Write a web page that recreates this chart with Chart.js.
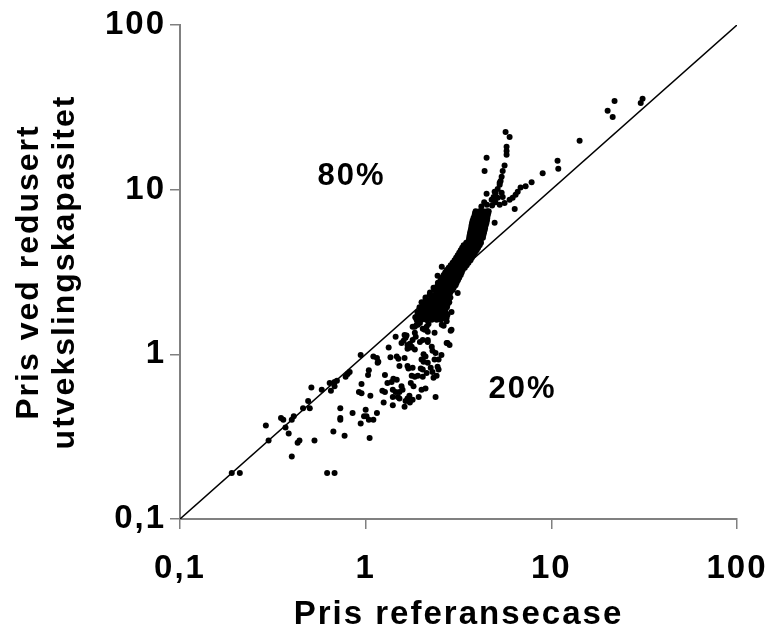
<!DOCTYPE html>
<html>
<head>
<meta charset="utf-8">
<script src="https://cdn.jsdelivr.net/npm/chart.js@4"></script>
<style>
  html, body { margin: 0; padding: 0; background: #fff; }
  #wrap { width: 768px; height: 635px; }
</style>
</head>
<body>
<div id="wrap"><canvas id="priceChart" width="768" height="635"></canvas></div>
<script>
var tickValues = [0.1, 1, 10, 100];
var tickLabels = ["0,1", "1", "10", "100"];
var diagonal = [0.1, 100];

// [pris referansecase, pris ved redusert utvekslingskapasitet]
var lowerPoints = [
  [0.19, 0.19], [0.21, 0.19], [0.29, 0.37], [0.30, 0.30], [0.35, 0.41], [0.36, 0.40],
  [0.37, 0.36], [0.385, 0.33], [0.40, 0.40], [0.41, 0.42], [0.40, 0.24], [0.43, 0.29],
  [0.44, 0.30], [0.46, 0.47], [0.49, 0.52], [0.50, 0.47], [0.51, 0.63], [0.53, 0.30],
  [0.58, 0.61], [0.62, 0.19], [0.68, 0.19], [0.64, 0.67], [0.65, 0.60], [0.67, 0.34],
  [0.68, 0.68], [0.70, 0.69], [0.68, 0.64], [0.73, 0.47], [0.73, 0.41], [0.73, 0.40],
  [0.77, 0.32], [0.78, 0.73], [0.80, 0.76], [0.82, 0.78], [0.85, 0.44], [0.92, 0.59],
  [0.95, 0.58], [0.95, 0.66], [0.94, 0.99], [1.00, 0.46], [0.98, 0.42], [0.94, 0.38],
  [1.04, 0.40], [1.10, 0.40], [1.05, 0.31], [1.06, 0.56], [1.03, 0.75], [1.04, 0.80],
  [1.10, 0.97], [1.15, 0.95], [1.16, 0.89], [1.15, 0.44], [1.01, 0.42], [1.17, 0.90]
];

var midPoints = [
  [1.33, 1.10], [1.36, 0.96], [1.45, 1.28], [1.50, 0.94], [1.47, 0.97], [1.56, 1.17],
  [1.60, 1.21], [1.64, 1.26], [1.66, 1.30], [1.52, 0.85], [1.68, 1.08], [1.62, 0.95],
  [1.75, 1.10], [1.86, 1.28], [1.84, 1.07], [1.70, 0.82], [1.47, 0.70], [1.38, 0.68],
  [1.41, 0.71], [1.27, 0.75], [1.23, 0.60], [1.40, 0.61], [1.45, 0.59], [1.49, 0.55],
  [1.52, 0.54], [1.25, 0.51], [1.40, 0.49], [1.56, 0.64], [1.58, 0.61], [1.68, 0.54],
  [1.72, 0.56], [1.64, 0.52], [1.81, 0.64], [1.75, 0.67], [1.93, 0.55], [1.77, 0.74],
  [1.84, 0.73], [1.91, 0.74], [2.00, 0.61], [2.10, 0.62], [2.38, 0.55], [1.98, 0.82],
  [2.03, 0.81], [1.68, 0.85], [1.79, 0.83], [2.00, 0.93], [2.05, 0.90], [2.16, 0.89],
  [2.24, 0.83], [2.29, 0.78], [2.47, 0.81], [2.32, 0.72], [2.41, 0.74], [2.29, 1.05],
  [2.38, 1.02], [2.05, 1.00], [2.10, 0.97], [1.96, 1.19], [2.03, 1.22], [2.16, 1.19],
  [2.47, 0.93], [2.56, 0.99], [2.73, 1.17], [2.83, 1.14], [2.87, 1.39], [2.73, 1.59],
  [2.56, 1.64], [2.47, 1.71], [1.79, 1.47], [1.88, 1.51], [1.96, 1.55], [1.88, 1.69],
  [1.98, 1.79], [2.08, 1.84], [2.16, 1.92], [2.03, 1.43], [2.13, 1.47], [2.18, 1.53],
  [1.68, 1.14], [1.73, 1.16], [1.79, 1.22], [1.84, 1.35], [1.31, 0.67], [1.27, 0.59],
  [1.52, 0.59], [1.40, 0.55], [1.62, 0.48], [1.73, 0.51], [1.79, 0.53], [2.03, 0.73],
  [2.13, 0.77], [2.35, 0.93], [2.44, 0.84], [1.62, 1.31], [1.84, 1.47], [1.91, 1.51],
  [2.08, 1.41], [2.16, 1.37], [2.16, 1.22], [2.35, 1.35], [2.57, 1.51], [2.41, 1.67],
  [2.73, 1.67], [2.76, 1.74], [2.63, 1.49], [2.90, 1.81], [2.90, 1.41], [2.76, 1.17],
  [1.77, 1.11], [2.27, 1.11], [2.13, 1.62], [2.44, 1.86]
];

// the dense band: one y level, several x values
var bandLevels = [1.62, 1.68, 1.74, 1.8, 1.86, 1.93, 2.0, 2.07, 2.14, 2.21, 2.29, 2.37,
  2.46, 2.54, 2.63, 2.72, 2.82, 2.92, 3.03, 3.14, 3.25, 3.36, 3.48, 3.6, 3.73, 3.86,
  4.0, 4.14, 4.29, 4.44, 4.6, 4.76, 4.93, 5.1, 5.28, 5.47, 5.66, 5.86, 6.07, 6.28,
  6.5, 6.73, 6.97, 7.18, 7.4];
var bandX = [
  [1.88, 2.0, 2.13, 2.27, 2.41, 2.53],
  [1.85, 1.96, 2.09, 2.22, 2.36, 2.5, 2.62],
  [1.93, 2.05, 2.18, 2.32, 2.47, 2.63],
  [1.9, 2.02, 2.15, 2.28, 2.43, 2.58, 2.7],
  [1.98, 2.1, 2.24, 2.38, 2.53, 2.66],
  [1.95, 2.06, 2.19, 2.33, 2.47, 2.62, 2.74],
  [2.03, 2.15, 2.28, 2.42, 2.57, 2.76],
  [2.0, 2.12, 2.25, 2.38, 2.52, 2.68, 2.82],
  [2.1, 2.22, 2.36, 2.5, 2.66, 2.8],
  [2.1, 2.28, 2.43, 2.57, 2.72, 2.86],
  [2.21, 2.35, 2.5, 2.63, 2.78],
  [2.22, 2.41, 2.56, 2.7, 2.86],
  [2.35, 2.48, 2.63, 2.78, 2.94],
  [2.32, 2.52, 2.67, 2.82, 2.98],
  [2.44, 2.58, 2.73, 2.88, 3.05],
  [2.45, 2.62, 2.77, 2.93, 3.09],
  [2.53, 2.68, 2.83, 2.98, 3.14],
  [2.57, 2.72, 2.88, 3.04, 3.19],
  [2.63, 2.78, 2.94, 3.1, 3.25],
  [2.68, 2.83, 2.98, 3.14, 3.29],
  [2.73, 2.88, 3.03, 3.2, 3.33],
  [2.8, 2.95, 3.1, 3.28, 3.42],
  [2.87, 3.03, 3.2, 3.37, 3.5],
  [2.94, 3.1, 3.27, 3.43, 3.58],
  [3.01, 3.17, 3.33, 3.5, 3.67],
  [3.07, 3.23, 3.4, 3.56, 3.73],
  [3.13, 3.29, 3.46, 3.63, 3.8],
  [3.19, 3.35, 3.52, 3.69, 3.88],
  [3.25, 3.41, 3.58, 3.76, 3.96],
  [3.31, 3.48, 3.65, 3.83, 4.03],
  [3.37, 3.54, 3.72, 3.91, 4.11],
  [3.48, 3.65, 3.84, 4.03, 4.18],
  [3.59, 3.77, 3.96, 4.16],
  [3.61, 3.79, 3.98, 4.18, 4.28],
  [3.63, 3.81, 4.0, 4.2, 4.3],
  [3.65, 3.83, 4.02, 4.22, 4.34],
  [3.68, 3.86, 4.05, 4.25, 4.37],
  [3.7, 3.88, 4.07, 4.27, 4.4],
  [3.72, 3.9, 4.1, 4.3, 4.43],
  [3.74, 3.93, 4.12, 4.32, 4.47],
  [3.77, 3.96, 4.15, 4.35, 4.5],
  [3.81, 4.0, 4.2, 4.4, 4.52],
  [3.86, 4.05, 4.25, 4.45, 4.54],
  [3.88, 4.08, 4.28, 4.48, 4.57],
  [3.91, 4.1, 4.3, 4.5, 4.6]
];

var upperPoints = [
  [2.57, 3.40], [2.44, 3.00], [3.13, 2.36], [4.95, 6.29],
  [4.2, 7.9], [4.5, 8.1], [4.8, 8.0], [5.0, 8.4], [4.35, 8.4],
  [4.77, 8.67], [4.89, 9.04], [5.01, 9.55], [5.14, 10.1], [5.27, 10.7], [5.33, 11.3],
  [5.40, 12.0], [5.47, 13.0], [5.60, 14.0], [5.74, 16.3], [5.74, 17.2], [5.74, 18.2],
  [5.96, 20.9], [5.67, 22.4],
  [4.48, 15.6], [4.37, 13.0], [4.48, 9.44],
  [4.95, 9.7], [5.40, 9.57], [5.47, 9.04], [5.14, 8.92], [4.83, 8.67], [5.27, 11.0],
  [5.27, 8.09], [5.60, 8.30], [5.96, 8.67], [6.19, 8.92], [6.42, 9.30], [6.59, 9.70],
  [6.83, 10.3], [7.27, 10.5], [7.83, 11.1], [8.98, 12.6], [10.8, 15.0], [10.9, 13.4],
  [14.2, 19.8], [20.1, 30.1], [21.4, 27.6], [21.9, 34.6], [30.3, 33.6], [31.0, 35.6],
  [6.35, 7.64]
];

var shareLabels = ["80%", "20%"];
var shareAt = [[0.84, 12.0], [7.0, 0.61]];

var points = [];
lowerPoints.concat(midPoints, upperPoints).forEach(function (p) {
  points.push({ x: p[0], y: p[1] });
});
bandLevels.forEach(function (y, i) {
  bandX[i].forEach(function (x) { points.push({ x: x, y: y }); });
});

var FONT = "'Liberation Sans', Arial, sans-serif";

// the original lettering is a little wide, so spread the glyphs
var wideText = {
  id: "wideText",
  beforeDraw: function (chart) { chart.ctx.letterSpacing = "2px"; }
};

var shareText = {
  id: "shareText",
  afterDatasetsDraw: function (chart) {
    var c = chart.ctx;
    c.save();
    c.fillStyle = "#000";
    c.font = "bold 31px " + FONT;
    c.textAlign = "center";
    c.textBaseline = "middle";
    shareLabels.forEach(function (t, i) {
      c.fillText(t, chart.scales.x.getPixelForValue(shareAt[i][0]),
        chart.scales.y.getPixelForValue(shareAt[i][1]));
    });
    c.restore();
  }
};

function logAxis(title) {
  return {
    type: "logarithmic",
    min: 0.1,
    max: 100,
    afterBuildTicks: function (s) {
      s.ticks = tickValues.map(function (v) { return { value: v }; });
    },
    ticks: {
      autoSkip: false,
      maxRotation: 0,
      color: "#000",
      font: { family: FONT, size: 33, weight: "bold" },
      callback: function (v) { return tickLabels[tickValues.indexOf(v)]; }
    },
    grid: { drawOnChartArea: false, drawTicks: true, tickLength: 10, color: "#808080", lineWidth: 1.5 },
    border: { color: "#808080", width: 2 },
    title: { display: true, text: title, color: "#000", font: { family: FONT, size: 33, weight: "bold" } }
  };
}

var xAxis = logAxis("Pris referansecase");
xAxis.ticks.padding = 20;
xAxis.title.padding = { top: 0, bottom: 0 };
xAxis.afterFit = function (s) {
  s.height = 116;
  s.paddingLeft = 0;
  s.paddingRight = 0;
};

var yAxis = logAxis(["Pris ved redusert", "utvekslingskapasitet"]);
yAxis.ticks.padding = 4;
yAxis.title.padding = { top: 11, bottom: 0 };
yAxis.title.font.lineHeight = 1.12;
yAxis.title.font.size = 32;
yAxis.afterFit = function (s) {
  s.width = 180;
  s.paddingTop = 0;
  s.paddingBottom = 0;
};

new Chart(document.getElementById("priceChart"), {
  type: "scatter",
  data: {
    datasets: [{
      data: diagonal.map(function (v) { return { x: v, y: v }; }),
      showLine: true,
      borderColor: "#000",
      borderWidth: 1.5,
      pointRadius: 0
    }, {
      data: points,
      pointRadius: 3,
      pointBorderWidth: 0,
      backgroundColor: "#000"
    }]
  },
  options: {
    responsive: false,
    animation: false,
    layout: { padding: { top: 25, right: 31, left: 0, bottom: 0 } },
    plugins: { legend: { display: false }, tooltip: { enabled: false } },
    scales: { x: xAxis, y: yAxis }
  },
  plugins: [wideText, shareText]
});
</script>
</body>
</html>
